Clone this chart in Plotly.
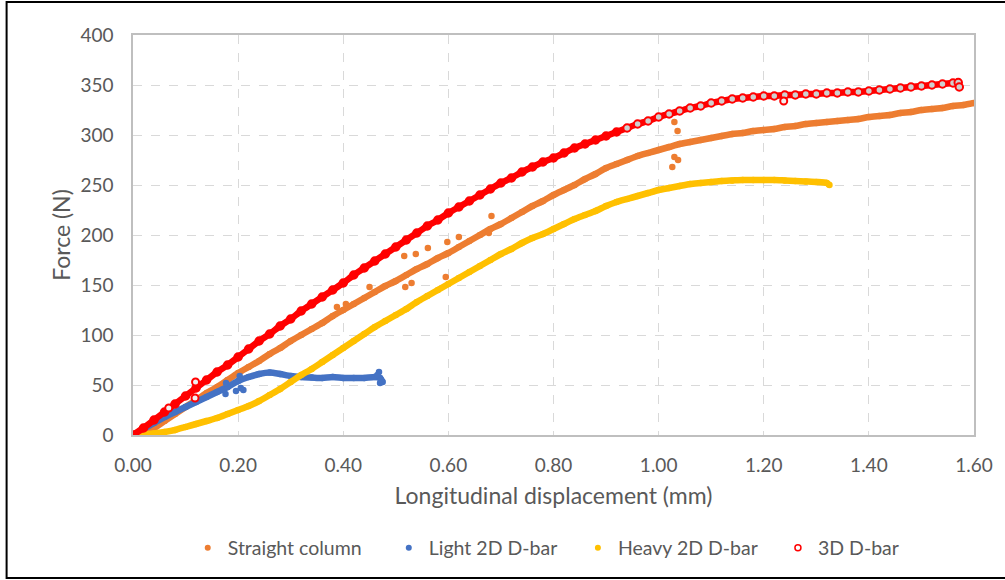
import plotly.graph_objects as go

# ---------------- data ----------------
step_x = [round(i * 0.02, 2) for i in range(81)]  # 0.00 .. 1.60

straight_x = step_x
straight_y = [0, 3, 7, 14, 21, 28, 35, 42, 48, 55,
              62, 68, 74, 81, 87, 94, 100, 106, 112, 119,
              125, 131, 137, 143, 149, 154, 160, 166, 171, 177,
              182, 188, 194, 200, 206, 211, 217, 223, 229, 234,
              240, 245, 250, 256, 261, 267, 271, 275, 279, 282,
              285, 288, 291, 293, 295, 297, 299, 301, 302, 304,
              305, 306, 308, 309, 311, 312, 313, 314, 315, 316,
              318, 319, 320, 322, 323, 325, 326, 327, 329, 330, 332]
straight_out_x = [0.516, 0.538, 0.561, 0.518, 0.595, 0.598, 0.62, 0.682, 0.677,
                  0.53, 1.03, 1.036, 1.03, 1.037, 1.026, 0.388, 0.405, 0.45]
straight_out_y = [179, 181, 187, 148, 158, 193, 198, 219, 202,
                  152, 313, 304, 278, 275, 268, 128, 131, 148]

light_x = [0.00, 0.02, 0.04, 0.06, 0.08, 0.10, 0.12, 0.14, 0.16, 0.18,
           0.20, 0.22, 0.24, 0.26, 0.28, 0.30, 0.32, 0.34, 0.36, 0.38,
           0.40, 0.42, 0.44, 0.46, 0.47, 0.475]
light_y = [0, 6, 12, 18, 23, 28, 33, 38, 43, 48,
           54, 58, 61, 62.5, 61, 59, 58, 57.5, 57, 58,
           57, 57, 57, 58, 57, 53]
light_out_x = [0.176, 0.203, 0.21, 0.196, 0.177, 0.205, 0.468, 0.47, 0.472, 0.465]
light_out_y = [41, 59, 45, 44, 52, 47, 63, 52, 55, 60]

heavy_x = [round(i * 0.02, 2) for i in range(67)] + [1.325]  # 0.00 .. 1.32
heavy_y = [0, 0.5, 1.5, 3, 5, 8, 11, 14, 17, 21,
           25, 29, 34, 40, 46, 53, 60, 66, 73, 80,
           87, 94, 101, 108, 114, 120, 126, 133, 139, 145,
           151, 157, 163, 169, 175, 181, 186, 192, 197, 201,
           206, 211, 216, 220, 224, 229, 233, 236, 239, 242,
           245, 247, 249, 251, 252, 253, 254, 254.5, 255, 255,
           255, 255, 254.5, 254, 253.5, 253, 252, 250]

d3_x = [round(i * 0.02, 2) for i in range(79)] + [1.57, 1.572]  # 0.00 .. 1.56
d3_y = [0, 7, 15, 23, 31, 39, 47, 55, 63, 70,
        78, 86, 94, 101, 109, 116, 124, 131, 138, 145,
        152, 160, 167, 174, 181, 188, 195, 202, 209, 215,
        222, 228, 234, 240, 246, 252, 257, 263, 268, 273,
        277, 282, 287, 291, 295, 299, 303, 307, 311, 314,
        318, 321, 324, 327, 329, 332, 334, 336, 337, 338,
        339, 339, 340, 340, 341, 341, 342, 342, 343, 343,
        344, 345, 346, 347, 348, 349, 350, 351, 352, 352.5, 348]
d3_out_x = [0.119, 0.118, 0.068, 1.238]
d3_out_y = [53, 37, 27, 334]

x_ticks = [0, 0.2, 0.4, 0.6, 0.8, 1.0, 1.2, 1.4, 1.6]
y_ticks = [0, 50, 100, 150, 200, 250, 300, 350, 400]

names = ["Straight column", "Light 2D D-bar", "Heavy 2D D-bar", "3D D-bar"]
colors = ["#ED7D31", "#4472C4", "#FFC000", "#FF0000"]

FONT = "Lato"
TXT = "#595959"

W, H = 1005, 580
L, R, T, B = 133, 27, 35, 145
pw, ph = W - L - R, H - T - B

fig = go.Figure()

# solid-marker series
for (xs, ys, ox, oy), c in zip(
        [(straight_x, straight_y, straight_out_x, straight_out_y),
         (light_x, light_y, light_out_x, light_out_y),
         (heavy_x, heavy_y, [], [])], colors[:3]):
    fig.add_trace(go.Scatter(x=xs, y=ys, mode="lines+markers",
                             line=dict(color=c, width=6.5, shape="spline", smoothing=0.6),
                             marker=dict(color=c, size=6.5),
                             showlegend=False, hoverinfo="skip"))
    if ox:
        fig.add_trace(go.Scatter(x=ox, y=oy, mode="markers",
                                 marker=dict(color=c, size=6.5),
                                 showlegend=False, hoverinfo="skip"))

# 3D D-bar: dense (solid) part, then open-looking circles
d3_fill = ["#FF0000" if x < 0.94 else "#cfcfcf" for x in d3_x]
fig.add_trace(go.Scatter(x=d3_x, y=d3_y, mode="lines+markers",
                         line=dict(color=colors[3], width=6.5, shape="spline", smoothing=0.6),
                         marker=dict(symbol="circle", size=7.5, color=d3_fill,
                                     line=dict(color=colors[3], width=2)),
                         showlegend=False, hoverinfo="skip"))
fig.add_trace(go.Scatter(x=d3_out_x, y=d3_out_y, mode="markers",
                         marker=dict(symbol="circle", size=7, color="#f0f0f0",
                                     line=dict(color=colors[3], width=2)),
                         showlegend=False, hoverinfo="skip"))

# legend entries, one small legend each (positions follow the reference)
text_starts = [229, 431, 621, 822]
legend_ids = ["legend", "legend2", "legend3", "legend4"]
for n, c, lid in zip(names, colors, legend_ids):
    if n == "3D D-bar":
        mk = dict(symbol="circle-open", size=6, color=c, line=dict(width=1.5, color=c))
    else:
        mk = dict(symbol="circle", size=6, color=c)
    fig.add_trace(go.Scatter(x=[None], y=[None], mode="markers", name=n, marker=mk,
                             legend=lid))

legend_common = dict(orientation="h", xanchor="left", yanchor="middle",
                     y=(435 - 548) / ph, font=dict(family=FONT, size=19.5, color=TXT),
                     itemwidth=30, bgcolor="rgba(0,0,0,0)", borderwidth=0)
legend_layout = {}
for lid, ts in zip(legend_ids, text_starts):
    legend_layout[lid] = dict(legend_common, x=(ts - 41 - L) / pw)

fig.update_layout(
    width=W, height=H,
    margin=dict(l=L, r=R, t=T, b=B),
    paper_bgcolor="white", plot_bgcolor="white",
    font=dict(family=FONT, color=TXT, size=19),
    showlegend=True,
    **legend_layout,
    xaxis=dict(range=[0, 1.6], tickvals=x_ticks, tickformat=".2f",
               showgrid=True, gridcolor="#D9D9D9", griddash="dash", gridwidth=1,
               zeroline=False, showline=True, linecolor="#BFBFBF", linewidth=1.5, mirror=True,
               ticks="", ticklabelstandoff=12,
               tickfont=dict(family=FONT, size=19, color=TXT),
               title=dict(text="Longitudinal displacement (mm)", standoff=13,
                          font=dict(family=FONT, size=23, color=TXT))),
    yaxis=dict(range=[0, 400], tickvals=y_ticks,
               showgrid=True, gridcolor="#D9D9D9", griddash="dash", gridwidth=1,
               zeroline=False, showline=True, linecolor="#BFBFBF", linewidth=1.5, mirror=True,
               ticks="", ticklabelstandoff=14,
               tickfont=dict(family=FONT, size=19, color=TXT),
               title=dict(text="Force (N)", standoff=3,
                          font=dict(family=FONT, size=23, color=TXT))),
)

# outer chart border (right edge falls just outside the frame, as in the reference)
fig.add_shape(type="rect", xref="paper", yref="paper",
              x0=(6 - L) / pw, x1=(1012 - L) / pw,
              y0=(435 - 578) / ph, y1=(435 - 2) / ph,
              line=dict(color="black", width=2), fillcolor="rgba(0,0,0,0)", layer="above")

fig.write_html("out.html",
               config={"displayModeBar": False},
               post_script="document.body.style.margin='0';document.body.style.overflow='hidden';")
